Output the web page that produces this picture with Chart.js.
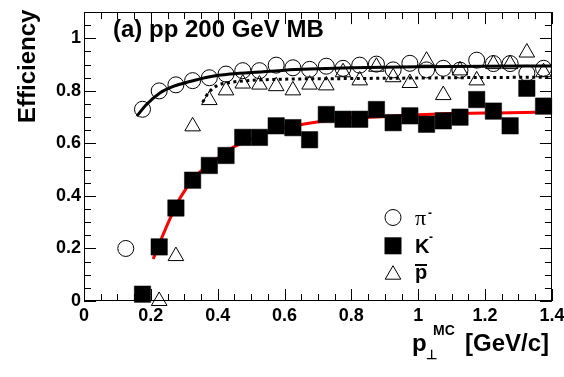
<!DOCTYPE html>
<html>
<head>
<meta charset="utf-8">
<script src="https://cdn.jsdelivr.net/npm/chart.js@4"></script>
<style>
html,body{margin:0;padding:0;background:#fff;}
canvas{display:block;}
</style>
</head>
<body>
<canvas id="c" width="564" height="377"></canvas>
<script>
// ---- data ----
const pionX = [0.125,0.175,0.225,0.275,0.325,0.375,0.425,0.475,0.525,0.575,0.625,0.675,0.725,0.775,0.825,0.875,0.925,0.975,1.025,1.075,1.125,1.175,1.225,1.275,1.325,1.375];
const pionY = [0.20,0.73,0.80,0.823,0.839,0.85,0.864,0.877,0.877,0.898,0.888,0.882,0.894,0.886,0.898,0.902,0.88,0.905,0.88,0.886,0.879,0.917,0.904,0.904,0.867,0.886];

const kaonX = [0.175,0.225,0.275,0.325,0.375,0.425,0.475,0.525,0.575,0.625,0.675,0.725,0.775,0.825,0.875,0.925,0.975,1.025,1.075,1.125,1.175,1.225,1.275,1.325,1.375];
const kaonY = [0.026,0.206,0.354,0.46,0.516,0.554,0.623,0.623,0.667,0.66,0.614,0.71,0.692,0.692,0.729,0.679,0.705,0.673,0.686,0.70,0.767,0.723,0.667,0.81,0.742];

const pbarX = [0.225,0.275,0.325,0.375,0.425,0.475,0.525,0.575,0.625,0.675,0.725,0.775,0.825,0.875,0.925,0.975,1.025,1.075,1.125,1.175,1.225,1.275,1.325,1.375];
const pbarY = [0.0,0.171,0.665,0.765,0.802,0.828,0.824,0.818,0.802,0.824,0.821,0.871,0.84,0.892,0.852,0.83,0.915,0.784,0.878,0.84,0.902,0.902,0.946,0.871];

const pionFitX = [0.158,0.187,0.227,0.267,0.317,0.377,0.437,0.536,0.6,0.7,0.8,1.0,1.2,1.4];
const pionFitY = [0.704,0.748,0.792,0.817,0.836,0.854,0.864,0.873,0.879,0.884,0.888,0.892,0.894,0.895];

const pbarFitX = [0.355,0.372,0.397,0.437,0.487,0.576,0.8,1.0,1.2,1.4];
const pbarFitY = [0.757,0.792,0.819,0.832,0.839,0.844,0.847,0.849,0.851,0.852];

const kaonFitX = [0.207,0.237,0.287,0.337,0.387,0.437,0.487,0.576,0.656,0.756,0.855,0.995,1.075,1.274,1.394];
const kaonFitY = [0.16,0.254,0.391,0.479,0.529,0.579,0.61,0.654,0.673,0.692,0.70,0.709,0.713,0.717,0.72];

const xTicks = [0,0.2,0.4,0.6,0.8,1.0,1.2,1.4];
const xTickLabels = ["0","0.2","0.4","0.6","0.8","1","1.2","1.4"];
const yTicks = [0,0.2,0.4,0.6,0.8,1.0];
const yTickLabels = ["0","0.2","0.4","0.6","0.8","1"];

const titleText = "(a) pp 200 GeV MB";
const yTitle = "Efficiency";
const legendLabels = ["\u03C0", "K", "p"];

// ---- helpers ----
const pts = (xs, ys) => xs.map((x, i) => ({x: x, y: ys[i]}));
const SANS = "'Liberation Sans', Arial, Helvetica, sans-serif";
const SERIF = "'Liberation Serif', 'Times New Roman', serif";

const framePlugin = {
  id: 'frame',
  beforeDatasetsDraw(chart) {
    const {ctx, chartArea: a, scales: {x, y}} = chart;
    ctx.save();
    ctx.strokeStyle = '#000';
    ctx.lineWidth = 1;
    ctx.strokeRect(Math.round(a.left) + 0.5, Math.round(a.top) + 0.5,
                   Math.round(a.right - a.left) - 1, Math.round(a.bottom - a.top) - 1);
    ctx.beginPath();
    // x ticks (bottom & top, inside)
    for (let k = 0; k <= 28; k++) {
      const v = k * 0.05;
      const px = Math.round(x.getPixelForValue(v)) + 0.5;
      const len = (k % 4 === 0) ? 12 : 7;
      ctx.moveTo(px, a.bottom); ctx.lineTo(px, a.bottom - len);
      ctx.moveTo(px, a.top); ctx.lineTo(px, a.top + len);
    }
    // y ticks (left & right, inside)
    for (let k = 0; k <= 22; k++) {
      const v = k * 0.05;
      const py = Math.round(y.getPixelForValue(v)) + 0.5;
      const len = (k % 4 === 0) ? 12 : 7;
      ctx.moveTo(a.left, py); ctx.lineTo(a.left + len, py);
      ctx.moveTo(a.right, py); ctx.lineTo(a.right - len, py);
    }
    ctx.stroke();
    ctx.restore();
  },
  afterDraw(chart) {
    const {ctx} = chart;
    ctx.save();
    ctx.fillStyle = '#000';
    ctx.textBaseline = 'alphabetic';
    ctx.textAlign = 'left';
    // title
    ctx.font = "bold 24px " + SANS;
    ctx.fillText(titleText, 113, 37);
    // y title
    ctx.save();
    ctx.translate(35, 123);
    ctx.rotate(-Math.PI / 2);
    ctx.font = "bold 24px " + SANS;
    ctx.fillText(yTitle, 0, 0);
    ctx.restore();
    // x title: p_perp^MC [GeV/c]
    ctx.font = "bold 24px " + SANS;
    ctx.fillText("p", 412, 351);
    ctx.font = "bold 13px " + SANS;
    ctx.fillText("\u22A5", 426, 359);
    ctx.font = "bold 14px " + SANS;
    ctx.fillText("MC", 433, 335);
    ctx.font = "bold 24px " + SANS;
    ctx.fillText("[GeV/c]", 465, 351);

    // legend
    const lx = 393;
    ctx.lineWidth = 1;
    ctx.strokeStyle = '#000';
    // circle
    ctx.beginPath();
    ctx.arc(lx, 217.5, 8, 0, Math.PI * 2);
    ctx.stroke();
    // square
    ctx.fillRect(lx - 8.5, 245.8 - 8.5, 17, 17);
    // triangle
    ctx.beginPath();
    const ty = 274.7, r = 9;
    ctx.moveTo(lx, ty - r);
    ctx.lineTo(lx + r * 0.866, ty + r / 2);
    ctx.lineTo(lx - r * 0.866, ty + r / 2);
    ctx.closePath();
    ctx.stroke();

    ctx.font = "22px " + SERIF;
    ctx.fillText(legendLabels[0], 415, 225);
    ctx.font = "bold 12px " + SANS;
    ctx.fillText("-", 428, 217);
    ctx.font = "bold 20px " + SANS;
    ctx.fillText(legendLabels[1], 415, 253);
    ctx.font = "bold 12px " + SANS;
    ctx.fillText("-", 429, 241);
    ctx.font = "bold 20px " + SANS;
    ctx.fillText(legendLabels[2], 415, 279);
    ctx.fillRect(415, 264, 12, 2);
    ctx.restore();
  }
};

const tickFont = {family: SANS, weight: 'bold', size: 18};

new Chart(document.getElementById('c'), {
  type: 'scatter',
  data: {
    datasets: [
      {label: 'pion fit', data: pts(pionFitX, pionFitY), showLine: true, pointRadius: 0,
       borderColor: '#000', borderWidth: 3, cubicInterpolationMode: 'monotone', order: 5},
      {label: 'pbar fit', data: pts(pbarFitX, pbarFitY), showLine: true, pointRadius: 0,
       borderColor: '#000', borderWidth: 3, borderDash: [3, 3.5], cubicInterpolationMode: 'monotone', order: 5},
      {label: 'kaon fit', data: pts(kaonFitX, kaonFitY), showLine: true, pointRadius: 0,
       borderColor: '#ff0000', borderWidth: 3, cubicInterpolationMode: 'monotone', order: 4},
      {label: '\u03C0-', data: pts(pionX, pionY), pointStyle: 'circle', pointRadius: 8,
       borderColor: '#000', backgroundColor: 'rgba(0,0,0,0)', borderWidth: 1, clip: false, order: 3},
      {label: 'K-', data: pts(kaonX, kaonY), pointStyle: 'rect', pointRadius: 11.6,
       borderColor: '#000', backgroundColor: '#000', borderWidth: 0.5, clip: false, order: 2},
      {label: 'pbar', data: pts(pbarX, pbarY), pointStyle: 'triangle', pointRadius: 9,
       borderColor: '#000', backgroundColor: 'rgba(0,0,0,0)', borderWidth: 1, clip: false, order: 1}
    ]
  },
  options: {
    responsive: false,
    animation: false,
    events: [],
    layout: {padding: {left: 0, right: 12, top: 7, bottom: 0}},
    plugins: {legend: {display: false}, tooltip: {enabled: false}},
    scales: {
      x: {
        type: 'linear', min: 0, max: 1.4,
        afterBuildTicks: s => { s.ticks = xTicks.map(v => ({value: v})); },
        afterFit: s => { s.height = 76; s.paddingLeft = 0; s.paddingRight = 0; },
        grid: {display: false, drawTicks: false},
        border: {display: false},
        ticks: {padding: 4, font: tickFont, color: '#000', maxRotation: 0, autoSkip: false,
                callback: (v, i) => xTickLabels[i]}
      },
      y: {
        type: 'linear', min: 0, max: 1.1,
        afterBuildTicks: s => { s.ticks = yTicks.map(v => ({value: v})); },
        afterFit: s => { s.width = 84; s.paddingTop = 0; s.paddingBottom = 0; },
        grid: {display: false, drawTicks: false},
        border: {display: false},
        ticks: {padding: 3, font: tickFont, color: '#000', autoSkip: false,
                callback: (v, i) => yTickLabels[i]}
      }
    }
  },
  plugins: [framePlugin]
});
</script>
</body>
</html>
